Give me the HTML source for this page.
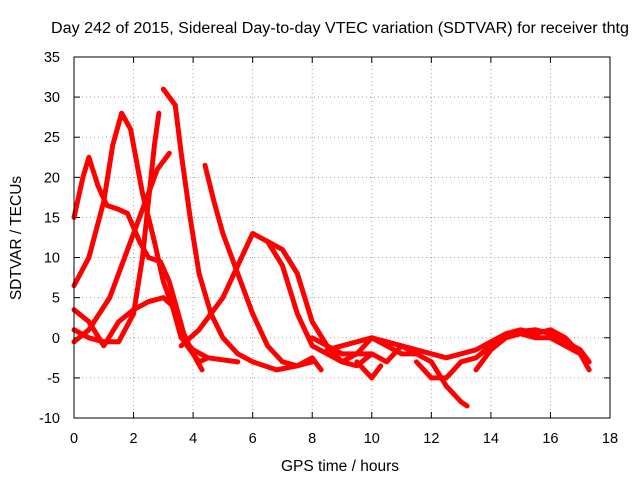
<!DOCTYPE html>
<html><head><meta charset="utf-8"><style>
body{margin:0;background:#fff;}
svg{display:block;font-family:"Liberation Sans",sans-serif;}
</style></head><body>
<svg id="chart" width="640" height="480">
<text x="340" y="33" text-anchor="middle" font-size="15.5" textLength="578" lengthAdjust="spacingAndGlyphs">Day 242 of 2015, Sidereal Day-to-day VTEC variation (SDTVAR) for receiver thtg</text>
<text x="340" y="471" text-anchor="middle" font-size="15.5">GPS time / hours</text>
<text transform="translate(21,238) rotate(-90)" text-anchor="middle" font-size="15.5">SDTVAR / TECUs</text>
<g id="grid"></g><g id="ticks"></g><g id="series"></g>
<rect x="74" y="57" width="536" height="361" fill="none" stroke="#000"/>
</svg>
<script>
const xTicks=[0,2,4,6,8,10,12,14,16,18];
const yTicks=[-10,-5,0,5,10,15,20,25,30,35];
const trackA=[[0,6.5],[0.5,10],[1,17],[1.3,24],[1.6,28],[1.9,26],[2.3,18],[2.7,12],[3.0,7],[3.5,2],[4.0,-2],[4.3,-4]];
const trackB=[[0,15],[0.3,20],[0.5,22.5],[0.8,19],[1.1,16.5],[1.5,16],[1.8,15.5],[2.2,12],[2.5,10],[2.9,9.5],[3.2,7],[3.5,3],[3.8,-1],[4.2,-3],[4.5,-2.5]];
const trackC=[[0,1],[0.5,0],[1,-0.5],[1.5,-0.5],[2.0,3],[2.3,10],[2.5,17],[2.7,24],[2.85,28]];
const trackD=[[0,-0.5],[0.5,1],[1.2,5],[1.8,11],[2.3,16],[2.8,21],[3.2,23]];
const trackE=[[3.0,31],[3.4,29],[3.6,23],[3.9,15],[4.2,8],[4.6,3],[5.0,0],[5.5,-2],[6.0,-3],[6.8,-4],[7.5,-3.5],[8.0,-2.5],[8.3,-4]];
const trackF=[[0,3.5],[0.5,2],[1.0,-1],[1.5,2],[2.0,3.5],[2.5,4.5],[3.0,5],[3.3,4],[3.6,0],[4.0,-1.5],[4.5,-2.5],[5.5,-3]];
const trackG=[[4.4,21.5],[4.7,17],[5.0,13],[5.5,8],[6.0,3],[6.5,-1],[7.0,-3],[7.5,-3.5],[8,-3]];
const trackH=[[3.6,-1],[4.2,1],[5.0,5],[5.5,9],[6.0,13],[6.5,12],[7.0,9],[7.5,3],[8,-1],[8.5,-2],[9,-3],[9.5,-3.5],[10,-2]];
const trackI=[[6.5,12],[7.0,11],[7.5,8],[8.0,2],[8.5,-1],[9.0,-3],[9.5,-2],[10,0],[10.5,-1],[11,-2],[11.5,-2]];
const trackJ=[[8,0],[8.5,-1],[9,-2],[10,-2],[10.5,-3],[11,-1],[12,-3],[12.5,-6],[13,-8],[13.2,-8.5]];
const trackK=[[8.5,-1.5],[9.5,-0.5],[10,0],[10.5,-0.5],[11,-1],[12,-2],[12.5,-2.5],[13,-2],[13.5,-1.5],[14,-0.5],[14.5,0.5],[15,1],[15.5,0.5],[16,1],[16.5,0],[17,-2],[17.2,-3]];
const trackL=[[11.5,-3],[12,-5],[12.5,-5],[13,-3],[13.5,-2.5],[14,-1],[14.5,0],[15,0.5],[15.5,0],[16,0],[16.5,-1],[17,-2],[17.3,-4]];
const trackM=[[13.5,-4],[14,-1.5],[14.5,0],[15,0.8],[15.5,1],[16,0.5],[16.5,-0.5],[17,-1.5],[17.3,-3]];
const trackN=[[9.5,-3],[10,-5],[10.3,-3.5]];
const tracks=[trackA,trackB,trackC,trackD,trackE,trackF,trackG,trackH,trackI,trackJ,trackK,trackL,trackM,trackN];
const NS="http://www.w3.org/2000/svg";
const X0=74,X1=610,Y0=418,Y1=57;
function xs(v){return X0+(v-0)/(18-0)*(X1-X0);}
function ys(v){return Y0-(v+10)/(45)*(Y0-Y1);}
const grid=document.getElementById('grid'),ticks=document.getElementById('ticks'),ser=document.getElementById('series');
function mk(tag,at,parent){const e=document.createElementNS(NS,tag);for(const k in at)e.setAttribute(k,at[k]);parent.appendChild(e);return e;}
xTicks.forEach(t=>{const x=xs(t);
 if(t>0&&t<18){const g=mk('line',{x1:x,x2:x,y1:Y1,y2:Y0,stroke:'#a0a0a0','stroke-dasharray':'1,3'},grid);
 
 }
 mk('line',{x1:x,x2:x,y1:Y0,y2:Y0-6,stroke:'#000'},ticks);mk('line',{x1:x,x2:x,y1:Y1,y2:Y1+6,stroke:'#000'},ticks);
 const l=mk('text',{x:x,y:Y0+25,'text-anchor':'middle','font-size':'14.5'},ticks);l.textContent=t;
 
 });
yTicks.forEach(t=>{const y=ys(t);
 if(t>-10&&t<35){const g=mk('line',{x1:X0,x2:X1,y1:y,y2:y,stroke:'#a0a0a0','stroke-dasharray':'1,3'},grid);
 
 }
 mk('line',{x1:X0,x2:X0+6,y1:y,y2:y,stroke:'#000'},ticks);mk('line',{x1:X1,x2:X1-6,y1:y,y2:y,stroke:'#000'},ticks);
 const l=mk('text',{x:X0-14,y:y+5,'text-anchor':'end','font-size':'14.5'},ticks);l.textContent=t;
 
 });
tracks.forEach((tr,i)=>{
 const p=mk('polyline',{points:tr.map(d=>xs(d[0])+','+ys(d[1])).join(' '),fill:'none',stroke:'#ff0000','stroke-width':'5','stroke-linejoin':'round','stroke-linecap':'round'},ser);
 
 
});
</script>
</body></html>
